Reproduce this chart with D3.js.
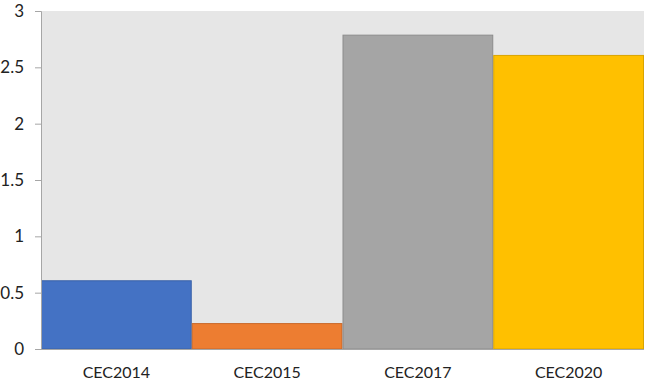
<!DOCTYPE html>
<html>
<head>
<meta charset="utf-8">
<script src="https://cdn.jsdelivr.net/npm/d3@7"></script>
<style>
  body { margin: 0; background: #fff; }
  text { font-family: Lato, "Open Sans", sans-serif; fill: #222; }
</style>
</head>
<body>
<svg id="chart"></svg>
<script>
const categories = ["CEC2014", "CEC2015", "CEC2017", "CEC2020"];
const values = [0.61, 0.23, 2.79, 2.61];
const colors = ["#4472C4", "#ED7D31", "#A5A5A5", "#FFC000"];
const borders = ["#3a62a8", "#c9692a", "#8c8c8c", "#d9a400"];
const yTicks = [0, 0.5, 1, 1.5, 2, 2.5, 3];

const width = 646, height = 385;
const margin = { top: 11, right: 2, bottom: 36, left: 41 };

const svg = d3.select("#chart")
    .attr("width", width)
    .attr("height", height);

const x = d3.scaleBand()
    .domain(categories)
    .range([margin.left, width - margin.right])
    .padding(0);

const y = d3.scaleLinear()
    .domain([0, 3])
    .range([height - margin.bottom, margin.top]);

// plot background
svg.append("rect")
   .attr("x", margin.left)
   .attr("y", margin.top)
   .attr("width", width - margin.right - margin.left)
   .attr("height", y(0) - margin.top)
   .attr("fill", "#e6e6e6");

// bars
svg.append("g")
   .selectAll("rect")
   .data(values)
   .enter()
   .append("rect")
   .attr("x", (d, i) => x(categories[i]) + 0.5)
   .attr("y", d => y(d) + 0.5)
   .attr("width", x.bandwidth() - 1)
   .attr("height", d => y(0) - y(d) - 0.5)
   .attr("fill", (d, i) => colors[i])
   .attr("stroke", (d, i) => borders[i])
   .attr("stroke-width", 1);

// y axis
const yAxis = svg.append("g")
   .attr("transform", `translate(${margin.left},0)`)
   .call(d3.axisLeft(y).tickValues(yTicks).tickSize(6).tickPadding(11).tickFormat(d3.format("")));
yAxis.select(".domain").attr("stroke", "#a6a6a6");
yAxis.selectAll(".tick line").attr("stroke", "#a6a6a6");
yAxis.selectAll(".tick text").style("font-size", "17px").attr("fill", "#222");

// x axis
const xAxis = svg.append("g")
   .attr("transform", `translate(0,${y(0)})`)
   .call(d3.axisBottom(x).tickSize(0).tickPadding(18));
xAxis.select(".domain").attr("stroke", "#a6a6a6").attr("d", `M${margin.left},0.5H${width - margin.right}`);
xAxis.selectAll(".tick text").style("font-size", "16px").attr("fill", "#222");
</script>
</body>
</html>
